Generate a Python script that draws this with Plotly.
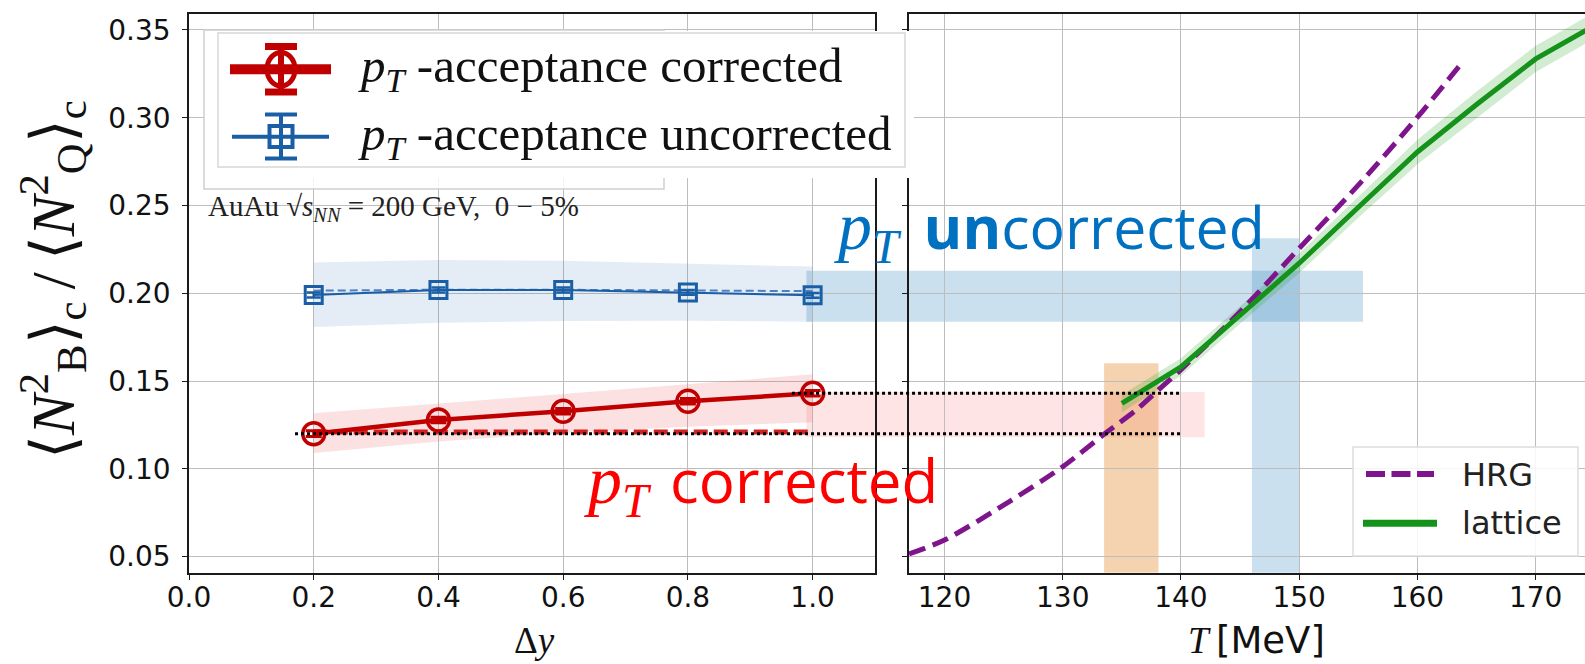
import plotly.graph_objects as go

W, H = 1585, 664

# ---------------- left panel: ratio versus rapidity window ----------------
dy = [0.2, 0.4, 0.6, 0.8, 1.0]
dy_ticks = [0.0, 0.2, 0.4, 0.6, 0.8, 1.0]

corrected = [0.1200, 0.1278, 0.1328, 0.1385, 0.1430]
corrected_err = [0.0016, 0.0016, 0.0016, 0.0016, 0.0016]
corrected_lo = [0.1090, 0.1155, 0.1205, 0.1240, 0.1265]
corrected_hi = [0.1316, 0.1372, 0.1427, 0.1482, 0.1538]
corrected_const = [0.1210, 0.1210, 0.1210, 0.1210, 0.1210]

uncorrected = [0.1990, 0.2019, 0.2019, 0.2005, 0.1988]
uncorrected_err = [0.0014, 0.0014, 0.0014, 0.0014, 0.0014]
uncorrected_lo = [0.1808, 0.1832, 0.1842, 0.1843, 0.1838]
uncorrected_hi = [0.2175, 0.2190, 0.2185, 0.2170, 0.2152]
uncorrected_const = [0.2015, 0.2020, 0.2020, 0.2016, 0.2012]

# ---------------- right panel: HRG and lattice versus temperature ----------------
hrg_T = [117.0, 120, 125, 130, 133.6, 136.3, 138.1, 140, 145, 150, 155.4, 160, 163.5]
hrg = [0.0515, 0.0594, 0.0793, 0.1012, 0.1202, 0.1340, 0.1450, 0.1565, 0.1895,
       0.2256, 0.2646, 0.3003, 0.3291]

lat_T = [135, 140, 145, 150, 155, 160, 165, 170, 175]
lat = [0.1372, 0.1580, 0.1876, 0.2171, 0.2490, 0.2805, 0.3075, 0.3335, 0.3527]
lat_err = [0.0050, 0.0050, 0.0050, 0.0055, 0.0060, 0.0070, 0.0075, 0.0075, 0.0075]
T_ticks = [120, 130, 140, 150, 160, 170]

# ---------------- mapping of measured ratios onto temperature ----------------
corr_band_y = (0.1180, 0.1437)
corr_band_T_end = 142.0
uncorr_band_y = (0.1838, 0.2128)
uncorr_band_T_end = 155.4
band_dy_start = 0.99
corr_T_window = (133.5, 138.1)
corr_T_top = 0.1601
uncorr_T_window = (146.0, 150.0)
uncorr_T_top = 0.2313
uncorr_T_bottom = 0.0370
dotted_dy_start = (0.17, 0.967)
dotted_T_end = 140.0

y_ticks = [0.05, 0.10, 0.15, 0.20, 0.25, 0.30, 0.35]
y_range = [0.0408, 0.3591]
dy_range = [0.0, 1.1]
T_range = [117.0, 174.17]

# ---------------- geometry (pixels) ----------------
L_X0, L_X1 = 189, 875
R_X0, R_X1 = 909, 1585
Y_TOP, Y_BOT = 14, 572.7


def pxx(p):
    return p / W


def pxy(p):
    return 1 - p / H


def dy_paper(v):
    return pxx(L_X0 + (v - dy_range[0]) / (dy_range[1] - dy_range[0]) * (L_X1 - L_X0))


def T_paper(t):
    return pxx(R_X0 + (t - T_range[0]) / (T_range[1] - T_range[0]) * (R_X1 - R_X0))


RED = "#c00000"
BLUE = "#1a5fa6"
PURPLE = "#7f158c"
GREEN = "#15921a"
GRID = "#bdbdbd"
AXC = "#1a1a1a"
SERIF = "Liberation Serif"
TICKFONT = dict(family="DejaVu Sans", size=28, color="#111111")

fig = go.Figure()

# bands around the measured ratios
fig.add_trace(go.Scatter(
    x=dy + dy[::-1], y=uncorrected_hi + uncorrected_lo[::-1], mode="lines", fill="toself",
    fillcolor="rgba(45,105,175,0.13)", line=dict(width=0), hoverinfo="skip",
    showlegend=False, xaxis="x", yaxis="y"))
fig.add_trace(go.Scatter(
    x=dy + dy[::-1], y=corrected_hi + corrected_lo[::-1], mode="lines", fill="toself",
    fillcolor="rgba(230,80,80,0.17)", line=dict(width=0), hoverinfo="skip",
    showlegend=False, xaxis="x", yaxis="y"))

fig.add_trace(go.Scatter(
    x=dy, y=uncorrected_const, mode="lines",
    line=dict(color="rgba(50,110,185,0.85)", width=2, dash="8px,4px"),
    showlegend=False, xaxis="x", yaxis="y"))
fig.add_trace(go.Scatter(
    x=dy, y=uncorrected, mode="lines+markers",
    line=dict(color=BLUE, width=2),
    marker=dict(symbol="square-open", size=17, color=BLUE, line=dict(width=3, color=BLUE)),
    error_y=dict(type="data", array=uncorrected_err, color=BLUE, thickness=2.5, width=7),
    showlegend=False, xaxis="x", yaxis="y"))

fig.add_trace(go.Scatter(
    x=dy, y=corrected_const, mode="lines",
    line=dict(color="#d22020", width=5, dash="14px,6px"),
    showlegend=False, xaxis="x", yaxis="y"))
fig.add_trace(go.Scatter(
    x=dy, y=corrected, mode="lines+markers",
    line=dict(color=RED, width=4.5),
    marker=dict(symbol="circle-open", size=22, color=RED, line=dict(width=3.5, color=RED)),
    error_y=dict(type="data", array=corrected_err, color=RED, thickness=3, width=8),
    showlegend=False, xaxis="x", yaxis="y"))

# right panel curves
lat_hi = [v + e for v, e in zip(lat, lat_err)]
lat_lo = [v - e for v, e in zip(lat, lat_err)]
fig.add_trace(go.Scatter(
    x=lat_T + lat_T[::-1], y=lat_hi + lat_lo[::-1], mode="lines", fill="toself",
    fillcolor="rgba(30,160,30,0.2)", line=dict(width=0), hoverinfo="skip",
    showlegend=False, xaxis="x2", yaxis="y2"))
fig.add_trace(go.Scatter(
    x=hrg_T, y=hrg, mode="lines",
    line=dict(color=PURPLE, width=5, dash="17px,8px", shape="spline", smoothing=0.8),
    name="HRG", showlegend=False, xaxis="x2", yaxis="y2"))
fig.add_trace(go.Scatter(
    x=lat_T, y=lat, mode="lines", line=dict(color=GREEN, width=5),
    name="lattice", showlegend=False, xaxis="x2", yaxis="y2"))

shapes = []

# highlighted ranges
shapes.append(dict(type="rect", xref="paper", yref="y", layer="below",
                   x0=dy_paper(band_dy_start), x1=T_paper(corr_band_T_end),
                   y0=corr_band_y[0], y1=corr_band_y[1],
                   fillcolor="rgba(250,120,120,0.2)", line=dict(width=0)))
shapes.append(dict(type="rect", xref="paper", yref="y", layer="below",
                   x0=dy_paper(band_dy_start), x1=T_paper(uncorr_band_T_end),
                   y0=uncorr_band_y[0], y1=uncorr_band_y[1],
                   fillcolor="rgba(31,119,180,0.23)", line=dict(width=0)))
shapes.append(dict(type="rect", xref="x2", yref="y", layer="below",
                   x0=corr_T_window[0], x1=corr_T_window[1],
                   y0=y_range[0], y1=corr_T_top,
                   fillcolor="rgba(230,140,50,0.38)", line=dict(width=0)))
shapes.append(dict(type="rect", xref="x2", yref="y", layer="below",
                   x0=uncorr_T_window[0], x1=uncorr_T_window[1],
                   y0=uncorr_T_bottom, y1=uncorr_T_top,
                   fillcolor="rgba(31,119,180,0.23)", line=dict(width=0)))

# dotted guides from the first and last corrected point
for x_start, yv in zip(dotted_dy_start, (corrected[0], corrected[-1])):
    shapes.append(dict(type="line", xref="paper", yref="y", layer="above",
                       x0=dy_paper(x_start), x1=T_paper(dotted_T_end), y0=yv, y1=yv,
                       line=dict(color="#000000", width=3, dash="3px,3px")))


def rect_px(x0, y0, x1, y1, fill, line_color=None, lw=0, **kw):
    d = dict(type="rect", xref="paper", yref="paper", layer="above",
             x0=pxx(x0), x1=pxx(x1), y0=pxy(y1), y1=pxy(y0), fillcolor=fill,
             line=dict(width=lw, color=line_color or "rgba(0,0,0,0)"))
    d.update(kw)
    return d


def line_px(x0, y0, x1, y1, color, width, dash=None):
    ln = dict(color=color, width=width)
    if dash:
        ln["dash"] = dash
    return dict(type="line", xref="paper", yref="paper", layer="above",
                x0=pxx(x0), x1=pxx(x1), y0=pxy(y0), y1=pxy(y1), line=ln)


# upper-left legend frames
shapes.append(rect_px(204, 30, 664, 189, "rgba(255,255,255,0.8)", "#cfcfcf", 1.5))
shapes.append(rect_px(205, 31, 914, 178, "#ffffff"))
shapes.append(rect_px(218, 33, 905, 167, "rgba(0,0,0,0)", "#d8d8d8", 1.5))

# legend glyph: corrected
shapes.append(line_px(230, 69.3, 331, 69.3, RED, 10))
shapes.append(line_px(281, 44, 281, 95, RED, 6))
shapes.append(line_px(265, 46.5, 297, 46.5, RED, 7))
shapes.append(line_px(265, 92, 297, 92, RED, 7))
shapes.append(dict(type="circle", xref="paper", yref="paper", layer="above",
                   x0=pxx(267), x1=pxx(295), y0=pxy(86), y1=pxy(52.5),
                   fillcolor="rgba(0,0,0,0)", line=dict(color=RED, width=5)))
# legend glyph: uncorrected
shapes.append(line_px(232, 136.7, 329, 136.7, BLUE, 4))
shapes.append(line_px(281, 113, 281, 160, BLUE, 4))
shapes.append(line_px(265, 114.5, 297, 114.5, BLUE, 4))
shapes.append(line_px(265, 158.5, 297, 158.5, BLUE, 4))
shapes.append(rect_px(269.5, 126, 292.5, 147, "rgba(0,0,0,0)", BLUE, 4))

# right legend
shapes.append(rect_px(1353, 447, 1578, 556, "rgba(255,255,255,0.85)", "#dddddd", 1.5))
shapes.append(line_px(1366, 474, 1434, 474, PURPLE, 6, "19px,6.5px"))
shapes.append(line_px(1363, 523.3, 1437, 523.3, GREEN, 7))

ann = []


def text_px(x, y, s, size, color="#111111", family=SERIF, xanchor="left", yanchor="middle", angle=0):
    ann.append(dict(text=s, x=pxx(x), y=pxy(y), xref="paper", yref="paper",
                    xanchor=xanchor, yanchor=yanchor, showarrow=False, textangle=angle,
                    font=dict(family=family, size=size, color=color)))


PT = "<i>p</i><sub><i>T</i></sub>"
text_px(356, 69, PT + " -acceptance corrected", 49)
text_px(356, 136, PT + " -acceptance uncorrected", 49)
text_px(206, 208, "AuAu √<i>s</i><sub><i>NN</i></sub> = 200 GeV,  0 − 5%", 29, color="#222222")

text_px(1460, 475, "HRG", 32, color="#222222", family="DejaVu Sans")
text_px(1460, 523, "lattice", 32, color="#222222", family="DejaVu Sans")

PT_BIG = "<span style=\"font-family:Liberation Serif;font-size:68px\"><i>p</i><sub><i>T</i></sub></span>"
text_px(832, 229, PT_BIG + " \u2009<b>un</b>corrected", 59, color="#0070c0", family="Open Sans")
text_px(582, 483, PT_BIG + " \u200acorrected", 60, color="#ff0000", family="Open Sans")

# axis titles
text_px(534, 640, "Δ<i>y</i>", 37, color="#111111", xanchor="center")
text_px(1256, 640, "<i>T</i>\u2009<span style=\"font-family:DejaVu Sans\">[MeV]</span>", 37,
        color="#111111", xanchor="center")
text_px(52, 280,
        "⟨<i>N</i><sup>2</sup><sub>B</sub>⟩<sub>c</sub>\u2009/\u2009⟨<i>N</i><sup>2</sup><sub>Q</sub>⟩<sub>c</sub>",
        61, color="#111111", xanchor="center", angle=-90)

axis_common = dict(showgrid=True, gridcolor=GRID, gridwidth=1.2, zeroline=False,
                   showline=True, linecolor=AXC, linewidth=1.6, ticks="outside",
                   ticklen=5, tickwidth=1.4, tickcolor=AXC, tickfont=TICKFONT,
                   automargin=False)

fig.update_layout(
    width=W, height=H, autosize=False,
    margin=dict(l=0, r=0, t=0, b=0),
    paper_bgcolor="white", plot_bgcolor="rgba(0,0,0,0)",
    showlegend=False,
    xaxis=dict(domain=[pxx(L_X0), pxx(L_X1)], range=dy_range, tickvals=dy_ticks,
               ticktext=[f"{v:.1f}" for v in dy_ticks], mirror=True, anchor="y",
               ticklabelstandoff=-6, **axis_common),
    yaxis=dict(domain=[pxy(Y_BOT), pxy(Y_TOP)], range=y_range, tickvals=y_ticks,
               ticktext=[f"{v:.2f}" for v in y_ticks], mirror=True, anchor="x",
               ticklabelstandoff=6, **axis_common),
    xaxis2=dict(domain=[pxx(R_X0), pxx(R_X1)], range=T_range, tickvals=T_ticks,
                ticktext=[str(v) for v in T_ticks], mirror=True, anchor="y2",
                ticklabelstandoff=-6, **axis_common),
    yaxis2=dict(domain=[pxy(Y_BOT), pxy(Y_TOP)], range=y_range, tickvals=y_ticks,
                showticklabels=False, mirror=False, anchor="x2", matches="y",
                **axis_common),
    shapes=shapes,
    annotations=ann,
)

fig.write_html("out.html")
